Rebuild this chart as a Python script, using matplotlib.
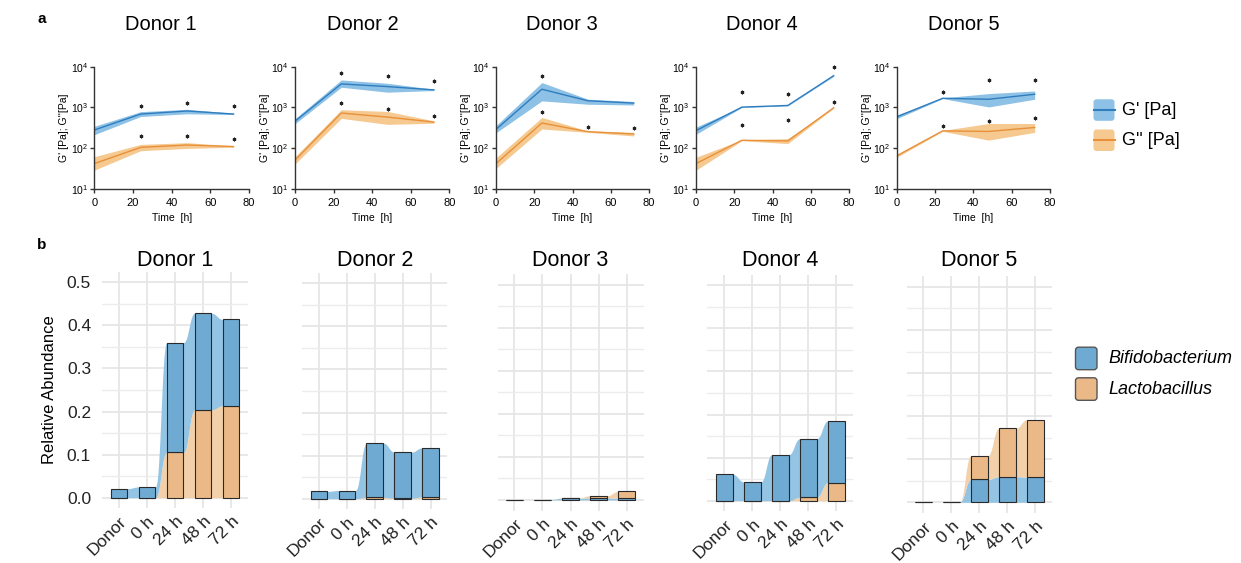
import numpy as np
import matplotlib
matplotlib.use('Agg')
import matplotlib.pyplot as plt
from matplotlib.patches import FancyBboxPatch, Rectangle
from matplotlib.ticker import FixedLocator, NullLocator, MultipleLocator

plt.rcParams['font.family'] = ['Liberation Sans', 'DejaVu Sans']
plt.rcParams['mathtext.fontset'] = 'custom'
plt.rcParams['mathtext.rm'] = 'Liberation Sans'
plt.rcParams['mathtext.it'] = 'Liberation Sans:italic'
plt.rcParams['mathtext.bf'] = 'Liberation Sans:bold'

nan = np.nan
# ---------------- data: panel a (rheology) ----------------
donors = ['Donor 1', 'Donor 2', 'Donor 3', 'Donor 4', 'Donor 5']
times = [0, 24, 48, 72]
gp_mean = [[280, 690, 820, 690],
           [460, 3780, 3250, 2700],
           [290, 2800, 1460, 1280],
           [270, 1020, 1120, 6030],
           [588, 1680, 1590, 2110]]
gp_low = [[215, 600, 700, 670],
          [400, 3130, 2370, 2600],
          [240, 1450, 1200, 1150],
          [220, 1000, 1090, 5800],
          [530, 1650, 1030, 1590]]
gp_high = [[345, 790, 900, 720],
           [530, 4730, 3920, 2800],
           [360, 4080, 1600, 1400],
           [330, 1040, 1150, 6200],
           [650, 1720, 2190, 2540]]
gpp_mean = [[42, 105, 120, 110],
            [51, 730, 580, 438],
            [42, 415, 255, 224],
            [42, 157, 151, 982],
            [65, 267, 258, 323]]
gpp_low = [[29, 87, 99, 106],
           [41, 540, 385, 410],
           [32, 297, 245, 200],
           [29, 153, 130, 960],
           [60, 260, 158, 245]]
gpp_high = [[62, 124, 137, 114],
            [62, 880, 798, 470],
            [58, 570, 265, 245],
            [60, 161, 172, 1000],
            [70, 274, 404, 404]]
gp_star = [[nan, 1100, 1310, 1100],
           [nan, 7000, 6030, 4560],
           [nan, 5900, nan, nan],
           [nan, 2450, 2150, 10000],
           [nan, 2400, 4720, 4720]]
gpp_star = [[nan, 200, 200, 166],
            [nan, 1290, 927, 616],
            [nan, 755, 325, 313],
            [nan, 364, 482, 1400],
            [nan, 355, 470, 546]]

# ---------------- data: panel b (relative abundance) ----------------
categories = ['Donor', '0 h', '24 h', '48 h', '72 h']
bifido = [[0.021, 0.025, 0.255, 0.224, 0.201],
          [0.017, 0.019, 0.126, 0.107, 0.114],
          [0.001, 0.001, 0.004, 0.005, 0.004],
          [0.061, 0.0435, 0.107, 0.136, 0.143],
          [0.001, 0.001, 0.053, 0.0595, 0.0587]]
lacto = [[0.0, 0.0, 0.105, 0.204, 0.213],
         [0.0, 0.0, 0.003, 0.001, 0.004],
         [0.0, 0.0, 0.001, 0.005, 0.016],
         [0.0, 0.0, 0.0, 0.008, 0.042],
         [0.0, 0.0, 0.055, 0.112, 0.133]]
stack_order = [['lacto', 'bifido'], ['lacto', 'bifido'], ['bifido', 'lacto'],
               ['lacto', 'bifido'], ['bifido', 'lacto']]

# ---------------- styles ----------------
blue_line, blue_band = '#2F7DBE', '#8DC1E6'
orng_line, orng_band = '#E8903A', '#F5C990'
strat_col = {'bifido': '#6EAAD2', 'lacto': '#EBB987'}
flow_col = {'bifido': '#93C4E4', 'lacto': '#F2D1AA'}

W, H = 1241, 563
fig = plt.figure(figsize=(W / 100, H / 100), dpi=100)


def rect(x0, x1, ytop, ybot):
    return [x0 / W, 1 - ybot / H, (x1 - x0) / W, (ybot - ytop) / H]


# ---------------- panel a ----------------
tx0 = [94.3, 295, 496, 696, 896.7]
tx1 = [249, 449.3, 649, 849, 1050]
ttl_x = [161, 363, 562, 762, 964]
for d in range(5):
    ax = fig.add_axes(rect(tx0[d], tx1[d], 66.7, 189))
    ax.set_yscale('log')
    ax.fill_between(times, gpp_low[d], gpp_high[d], color=orng_band, lw=0)
    ax.plot(times, gpp_mean[d], color=orng_line, lw=1)
    ax.fill_between(times, gp_low[d], gp_high[d], color=blue_band, lw=0)
    ax.plot(times, gp_mean[d], color=blue_line, lw=1)
    ax.plot(times, gp_star[d], ls='none', marker=(6, 2, 0), ms=2.6, mew=0.8, color='#222222', clip_on=False)
    ax.plot(times, gpp_star[d], ls='none', marker=(6, 2, 0), ms=2.6, mew=0.8, color='#222222', clip_on=False)
    ax.set_xlim(0, 80)
    ax.set_ylim(10, 1e4)
    ax.set_xticks([0, 20, 40, 60, 80])
    ax.yaxis.set_major_locator(FixedLocator([10, 100, 1000, 10000]))
    ax.yaxis.set_minor_locator(NullLocator())
    for s in ['top', 'right']:
        ax.spines[s].set_visible(False)
    for s in ['left', 'bottom']:
        ax.spines[s].set_linewidth(1.0)
        ax.spines[s].set_color('#333333')
    ax.tick_params(axis='both', direction='out', length=3, width=1, color='#333333')
    ax.tick_params(axis='x', labelsize=8, pad=3.5)
    ax.tick_params(axis='y', labelsize=7.5, pad=1.5)
    ax.set_xlabel('Time  [h]', fontsize=7.5)
    ax.set_ylabel("G' [Pa]; G''[Pa]", fontsize=7.5)
    wpx = tx1[d] - tx0[d]
    ax.xaxis.set_label_coords(0.5, -(213 - 189) / 122.3)
    ax.yaxis.set_label_coords(-25.0 / wpx, 0.5)
    fig.text(ttl_x[d] / W, 1 - 25 / H, donors[d], ha='center', va='center', fontsize=14.5)

# ---------------- panel b ----------------
bx0 = [102.2, 302.3, 497.5, 707.5, 906.5]
bx1 = [247.8, 447.4, 643.5, 853, 1052]
zero_px = [497.7, 498.7, 500.0, 500.7, 502.3]
ppu = 430.8
ylo, yhi = -0.025, 0.525
bar_w = 0.6


def sig(n=60, k=0.45):
    t = np.linspace(0, 1, n)
    x = 3 * (1 - t) ** 2 * t * k + 3 * (1 - t) * t ** 2 * (1 - k) + t ** 3
    y = 3 * (1 - t) * t ** 2 + t ** 3
    return x, y


sx, sy = sig()
series = {'bifido': bifido, 'lacto': lacto}
xpos = np.arange(1, len(categories) + 1)
for d in range(5):
    z = zero_px[d]
    ax = fig.add_axes(rect(bx0[d], bx1[d], z - yhi * ppu, z - ylo * ppu))
    ax.set_xlim(0.4, 5.6)
    ax.set_ylim(ylo, yhi)
    ax.set_xticks(xpos)
    ax.set_xticklabels(categories, rotation=45, ha='right', va='top', rotation_mode='anchor', fontsize=12.5)
    ax.yaxis.set_major_locator(MultipleLocator(0.1))
    ax.yaxis.set_minor_locator(MultipleLocator(0.05))
    ax.grid(True, which='major', color='#E6E6E6', lw=1.3, zorder=0)
    ax.grid(True, which='minor', axis='y', color='#ECECEC', lw=1.0, zorder=0)
    ax.set_axisbelow(True)
    for s in ax.spines.values():
        s.set_visible(False)
    ax.tick_params(axis='both', which='both', length=0, pad=4, labelcolor='#222222')
    if d == 0:
        ax.set_yticks([0, 0.1, 0.2, 0.3, 0.4, 0.5])
        ax.set_yticklabels(['0.0', '0.1', '0.2', '0.3', '0.4', '0.5'], fontsize=12.5)
        ax.tick_params(axis='y', pad=8)
        ax.set_ylabel('Relative Abundance', fontsize=12)
        ax.yaxis.set_label_coords(-(bx0[d] - 57) / (bx1[d] - bx0[d]), 0.5)
    else:
        ax.tick_params(axis='y', labelleft=False)
    # stacks
    bottoms = {}
    tops = {}
    cum = np.zeros(len(categories))
    for sp in stack_order[d]:
        v = np.array(series[sp][d], dtype=float)
        bottoms[sp] = cum.copy()
        cum = cum + v
        tops[sp] = cum.copy()
    # flows
    for sp in stack_order[d]:
        for i in range(len(categories) - 1):
            xa = xpos[i] + bar_w / 2
            xb = xpos[i + 1] - bar_w / 2
            X = xa + sx * (xb - xa)
            lo = bottoms[sp][i] + sy * (bottoms[sp][i + 1] - bottoms[sp][i])
            hi = tops[sp][i] + sy * (tops[sp][i + 1] - tops[sp][i])
            ax.fill_between(X, lo, hi, color=flow_col[sp], lw=0, zorder=2)
    # strata
    for sp in stack_order[d]:
        for i in range(len(categories)):
            ax.add_patch(Rectangle((xpos[i] - bar_w / 2, bottoms[sp][i]), bar_w,
                                   tops[sp][i] - bottoms[sp][i], facecolor=strat_col[sp],
                                   edgecolor='#2A2A2A', lw=0.8, zorder=3))
    fig.text(((bx0[d] + bx1[d]) / 2) / W, 1 - 260 / H, donors[d], ha='center', va='center', fontsize=15.5)

# ---------------- legends and panel letters ----------------
ov = fig.add_axes([0, 0, 1, 1])
ov.set_xlim(0, W)
ov.set_ylim(H, 0)
ov.axis('off')

leg_a = [("G' [Pa]", blue_band, blue_line, 98.3), ("G'' [Pa]", orng_band, orng_line, 128.5)]
for lab, band, line, y0 in leg_a:
    ov.add_patch(FancyBboxPatch((1093.5, y0 + 1), 21, 21.5, boxstyle='round,pad=0,rounding_size=3',
                                facecolor=band, edgecolor='none'))
    ov.plot([1093.5, 1114.5], [y0 + 11.8, y0 + 11.8], color=line, lw=1.5)
    ov.text(1122, y0 + 12, lab, fontsize=13, ha='left', va='center')

leg_b = [('Bifidobacterium', strat_col['bifido'], 346.7), ('Lactobacillus', strat_col['lacto'], 377.3)]
for lab, col, y0 in leg_b:
    ov.add_patch(FancyBboxPatch((1075.5, y0 + 0.5), 21.5, 22.5, boxstyle='round,pad=0,rounding_size=3',
                                facecolor=col, edgecolor='#555555', lw=1.0))
    ov.text(1108, y0 + 12, lab, fontsize=13, style='italic', ha='left', va='center')

ov.text(42, 19, 'a', fontsize=11, fontweight='bold', ha='center', va='center')
ov.text(42, 245, 'b', fontsize=11, fontweight='bold', ha='center', va='center')

fig.savefig('out.png', dpi=100)
